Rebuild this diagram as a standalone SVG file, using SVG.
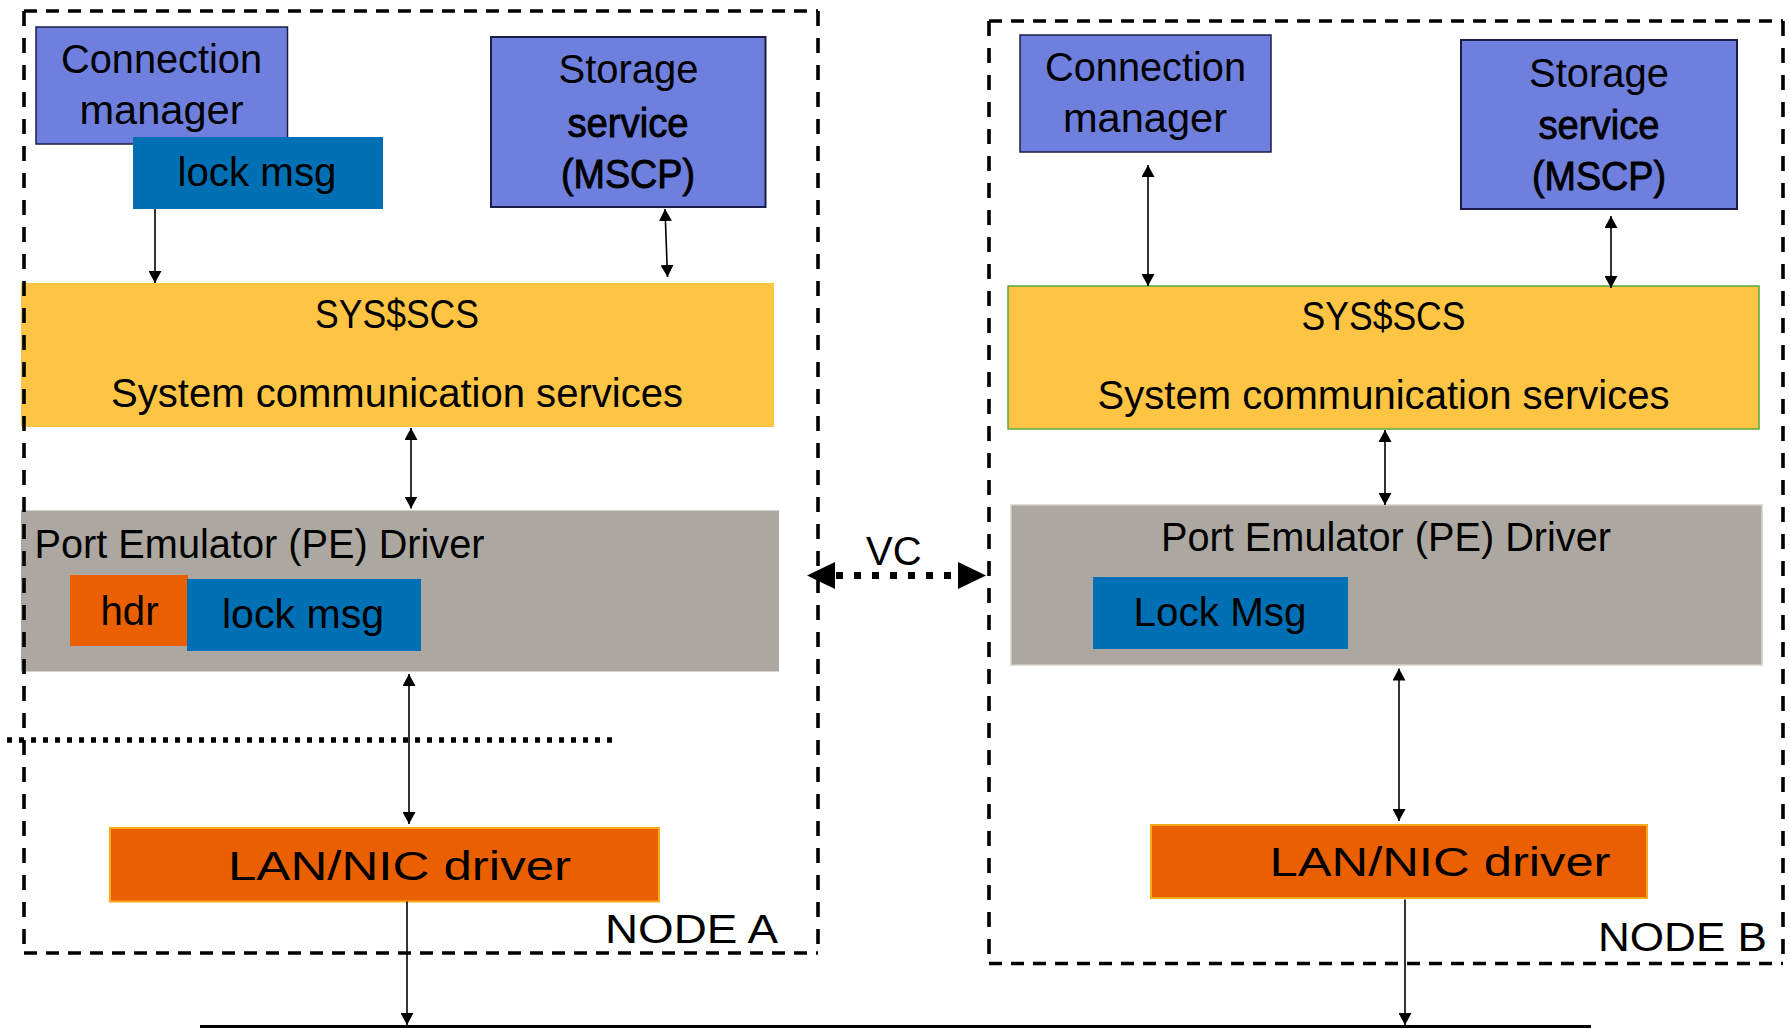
<svg xmlns="http://www.w3.org/2000/svg" width="1790" height="1029" viewBox="0 0 1790 1029">
<defs>
<marker id="ah" viewBox="0 0 12 13" refX="12" refY="6.5" markerWidth="12" markerHeight="13" markerUnits="userSpaceOnUse" orient="auto-start-reverse">
<path d="M0,0 L12,6.5 L0,13 z" fill="#000"/>
</marker>
<style>
text{font-family:"Liberation Sans",Arial,sans-serif;font-size:40px;fill:#000}
.c{text-anchor:middle}
.semi{stroke:#000;stroke-width:0.9}
.svc{fill:#6F7FDD;stroke:#1C1C48;stroke-width:2}
.msg{fill:#0070B4}
.sys{fill:#FDC543}
.pe{fill:#ACA8A1}
.hdr{fill:#EA5F00}
.lan{fill:#EA5F00;stroke:#F7A81B;stroke-width:2}
.conn line{stroke:#000;stroke-width:1.6;fill:none}
.h{stroke:#000;stroke-width:3.6;stroke-dasharray:13 9;fill:none}
.v{stroke:#000;stroke-width:3.6;stroke-dasharray:15 12;fill:none}
</style>
</defs>
<rect width="1790" height="1029" fill="#fff"/>

<g id="nodeA-sys">
<rect class="sys" x="21" y="283" width="753" height="144"/>
<text class="c" x="397" y="328" textLength="164" lengthAdjust="spacingAndGlyphs">SYS$SCS</text>
<text class="c" x="397" y="407" textLength="572" lengthAdjust="spacingAndGlyphs">System communication services</text>
</g>
<g id="nodeA-cm">
<rect class="svc" x="36" y="27" width="251.5" height="117" style="stroke-width:1.5"/>
<text class="c" x="161.5" y="73" textLength="201" lengthAdjust="spacingAndGlyphs">Connection</text>
<text class="c" x="161.5" y="124" textLength="164" lengthAdjust="spacingAndGlyphs">manager</text>
</g>
<g id="nodeA-lockmsg-top">
<rect class="msg" x="133" y="137" width="250" height="72"/>
<text class="c" x="257" y="186" textLength="159" lengthAdjust="spacingAndGlyphs">lock msg</text>
</g>
<g id="nodeA-storage">
<rect class="svc" x="491" y="37" width="274.5" height="170"/>
<text class="c" x="628.5" y="83" textLength="140" lengthAdjust="spacingAndGlyphs">Storage</text>
<text class="c semi" x="628" y="137" textLength="121" lengthAdjust="spacingAndGlyphs">service</text>
<text class="c semi" x="628" y="188" textLength="134" lengthAdjust="spacingAndGlyphs">(MSCP)</text>
</g>
<g id="nodeA-pe">
<rect class="pe" x="21" y="510.5" width="758" height="161"/>
<text x="34.5" y="558" textLength="450" lengthAdjust="spacingAndGlyphs">Port Emulator (PE) Driver</text>
</g>
<g id="nodeA-hdr">
<rect class="hdr" x="70" y="575" width="118" height="71"/>
<text class="c" x="129.5" y="625" textLength="58" lengthAdjust="spacingAndGlyphs">hdr</text>
</g>
<g id="nodeA-lockmsg-pe">
<rect class="msg" x="187" y="579" width="234" height="72"/>
<text class="c" x="303" y="628" textLength="162" lengthAdjust="spacingAndGlyphs">lock msg</text>
</g>
<g id="nodeA-lan">
<rect class="lan" x="110" y="828" width="549" height="73.5"/>
<text class="c" x="399.5" y="880" font-size="41" textLength="343" lengthAdjust="spacingAndGlyphs">LAN/NIC driver</text>
</g>

<g id="nodeB-sys">
<rect class="sys" x="1008" y="286" width="751" height="143" style="stroke:#5AA83C;stroke-width:1.5"/>
<text class="c" x="1383.5" y="330" textLength="164" lengthAdjust="spacingAndGlyphs">SYS$SCS</text>
<text class="c" x="1383.5" y="409" textLength="572" lengthAdjust="spacingAndGlyphs">System communication services</text>
</g>
<g id="nodeB-cm">
<rect class="svc" x="1020" y="35" width="251" height="117" style="stroke-width:1.5"/>
<text class="c" x="1145.5" y="81" textLength="201" lengthAdjust="spacingAndGlyphs">Connection</text>
<text class="c" x="1145" y="132" textLength="164" lengthAdjust="spacingAndGlyphs">manager</text>
</g>
<g id="nodeB-storage">
<rect class="svc" x="1461" y="40" width="276" height="169"/>
<text class="c" x="1599" y="87" textLength="140" lengthAdjust="spacingAndGlyphs">Storage</text>
<text class="c semi" x="1599" y="139" textLength="121" lengthAdjust="spacingAndGlyphs">service</text>
<text class="c semi" x="1599" y="190" textLength="134" lengthAdjust="spacingAndGlyphs">(MSCP)</text>
</g>
<g id="nodeB-pe">
<rect class="pe" x="1011" y="505" width="751" height="160" style="stroke:#D4D0CA;stroke-width:1.5"/>
<text class="c" x="1386" y="551" textLength="450" lengthAdjust="spacingAndGlyphs">Port Emulator (PE) Driver</text>
</g>
<g id="nodeB-lockmsg">
<rect class="msg" x="1093" y="577" width="255" height="72"/>
<text class="c" x="1220" y="626" textLength="173" lengthAdjust="spacingAndGlyphs">Lock Msg</text>
</g>
<g id="nodeB-lan">
<rect class="lan" x="1151" y="825" width="496" height="73"/>
<text class="c" x="1440" y="876" font-size="41" textLength="341" lengthAdjust="spacingAndGlyphs">LAN/NIC driver</text>
</g>

<g id="nodeA-frame">
<line class="h" x1="24" y1="11" x2="818" y2="11"/>
<line class="h" x1="24" y1="953" x2="818" y2="953"/>
<line class="v" x1="24" y1="11" x2="24" y2="953"/>
<line class="v" x1="818" y1="11" x2="818" y2="953"/>
<text x="605" y="943" font-size="42" textLength="173" lengthAdjust="spacingAndGlyphs">NODE A</text>
</g>
<g id="nodeB-frame">
<line class="h" x1="989" y1="21" x2="1783" y2="21"/>
<line class="h" x1="989" y1="963.5" x2="1783" y2="963.5"/>
<line class="v" x1="989" y1="21" x2="989" y2="963.5"/>
<line class="v" x1="1783" y1="21" x2="1783" y2="963.5"/>
<text x="1598" y="951" font-size="42" textLength="169" lengthAdjust="spacingAndGlyphs">NODE B</text>
</g>

<g id="connectors" class="conn">
<line x1="155" y1="209" x2="155" y2="283" marker-end="url(#ah)"/>
<line x1="665" y1="209" x2="667.5" y2="277" marker-start="url(#ah)" marker-end="url(#ah)"/>
<line x1="411" y1="428" x2="411" y2="508.5" marker-start="url(#ah)" marker-end="url(#ah)"/>
<line x1="409" y1="674" x2="409" y2="824" marker-start="url(#ah)" marker-end="url(#ah)"/>
<line x1="407" y1="901.5" x2="407" y2="1025" marker-end="url(#ah)"/>
<line x1="1148" y1="165" x2="1148" y2="286" marker-start="url(#ah)" marker-end="url(#ah)"/>
<line x1="1611" y1="216" x2="1611" y2="288" marker-start="url(#ah)" marker-end="url(#ah)"/>
<line x1="1385" y1="430" x2="1385" y2="505" marker-start="url(#ah)" marker-end="url(#ah)"/>
<line x1="1399" y1="668.5" x2="1399" y2="821" marker-start="url(#ah)" marker-end="url(#ah)"/>
<line x1="1405" y1="899.5" x2="1405" y2="1025" marker-end="url(#ah)"/>
<line x1="200" y1="1026.5" x2="1591" y2="1026.5" style="stroke-width:3"/>
<line x1="7" y1="740" x2="614" y2="740" style="stroke-width:5.5;stroke-dasharray:5 7"/>
<line x1="836" y1="575.5" x2="958" y2="575.5" style="stroke-width:7;stroke-dasharray:7 11"/>
<polygon points="807,575.5 835,562 835,589" fill="#000"/>
<polygon points="986,575.5 958,562 958,589" fill="#000"/>
<text x="866" y="565">VC</text>
</g>
</svg>
